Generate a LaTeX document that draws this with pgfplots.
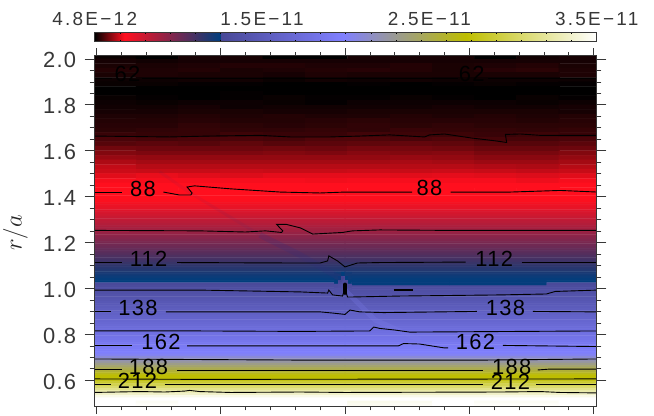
\documentclass[border=0pt]{standalone}
\usepackage{fontspec}
\usepackage{pgfplots}
\pgfplotsset{compat=1.18}
\setmainfont{Liberation Sans}[LetterSpace=12]
\newfontfamily\numfont{Liberation Sans}[LetterSpace=6]

\definecolor{tickgray}{RGB}{55,55,55}
\definecolor{streakblue}{RGB}{50,45,125}
\definecolor{streaklight}{RGB}{125,125,235}

\pgfplotsset{
  colormap={hc}{rgb255(0pt)=(0,0,0); rgb255(59pt)=(255,15,30); rgb255(250pt)=(0,62,125);
    rgb255(251pt)=(72,72,150); rgb255(495pt)=(128,128,255); rgb255(740pt)=(190,190,0);
    rgb255(1000pt)=(255,255,255)},
  contour/.style={no marks, black, line width=0.9bp},
}
\tikzset{lab/.style={font=\numfont\fontsize{22}{22}\selectfont, text=black, inner sep=0pt}}

\begin{document}
\begin{tikzpicture}
\useasboundingbox (0,0) rectangle (654bp,416bp);
\begin{axis}[
    name=main,
    at={(94.7bp,9.3bp)}, anchor=south west,
    scale only axis, width=501.6bp, height=351bp,
    xmin=-0.013, xmax=4.021,
    ymin=0.485, ymax=2.014,
    colormap name=hc,
    point meta min=0, point meta max=1000,
    xmajorticks=false,
    ytick={0.6,0.8,1.0,1.2,1.4,1.6,1.8,2.0},
    yticklabels={0.6,0.8,1.0,1.2,1.4,1.6,1.8,\raisebox{-3.5bp}{2.0}},
    minor y tick num=3,
    ytick pos=both, tick align=outside,
    major tick length=10bp, minor tick length=5bp,
    tick style={tickgray, line width=0.7bp},
    axis line style={tickgray, line width=0.8bp},
    yticklabel style={font=\numfont\fontsize{22}{22}\selectfont, text=tickgray, xshift=-5bp, yshift=-1.5bp},
    axis on top,
    colorbar horizontal,
    colorbar style={
      at={(0,1.0399)}, anchor=south west, xshift=-0.4bp,
      scale only axis, width=502bp, height=9.4bp,
      xticklabel pos=upper,
      xtick={0,333.3,666.7,1000},
      xticklabels={4.8E−12,1.5E−11,2.5E−11,3.5E−11},
      minor xtick={50,100,150,200,250,300,350,400,450,500,550,600,650,700,750,800,850,900,950},
      tick align=inside, major tick length=0pt, minor tick length=1.5bp,
      tick style={black, line width=0.5bp},
      axis line style={tickgray, line width=0.7bp},
      xticklabel style={font=\fontsize{19}{19}\selectfont, text=tickgray, yshift=3bp},
    },
]
% upper part, blocky rows
\addplot[matrix plot*, point meta=explicit, mesh/cols=12] coordinates {
(.15,2.01)[2] (.49,2.01)[0] (.83,2.01)[5] (1.17,2.01)[5] (1.51,2.01)[0] (1.85,2.01)[0] (2.19,2.01)[5] (2.53,2.01)[5] (2.87,2.01)[5] (3.21,2.01)[0] (3.55,2.01)[4] (3.89,2.01)[5]
(.15,1.99)[5] (.49,1.99)[4] (.83,1.99)[5] (1.17,1.99)[5] (1.51,1.99)[5] (1.85,1.99)[5] (2.19,1.99)[5] (2.53,1.99)[5] (2.87,1.99)[5] (3.21,1.99)[5] (3.55,1.99)[5] (3.89,1.99)[5]
(.15,1.97)[6] (.49,1.97)[6] (.83,1.97)[7] (1.17,1.97)[8] (1.51,1.97)[8] (1.85,1.97)[7] (2.19,1.97)[7] (2.53,1.97)[8] (2.87,1.97)[6] (3.21,1.97)[7] (3.55,1.97)[8] (3.89,1.97)[6]
(.15,1.95)[8] (.49,1.95)[7] (.83,1.95)[8] (1.17,1.95)[6] (1.51,1.95)[7] (1.85,1.95)[8] (2.19,1.95)[9] (2.53,1.95)[8] (2.87,1.95)[6] (3.21,1.95)[9] (3.55,1.95)[10] (3.89,1.95)[7]
(.15,1.93)[6] (.49,1.93)[7] (.83,1.93)[6] (1.17,1.93)[6] (1.51,1.93)[5] (1.85,1.93)[7] (2.19,1.93)[6] (2.53,1.93)[6] (2.87,1.93)[6] (3.21,1.93)[6] (3.55,1.93)[6] (3.89,1.93)[7]
(.15,1.91)[3] (.49,1.91)[3] (.83,1.91)[4] (1.17,1.91)[4] (1.51,1.91)[2] (1.85,1.91)[4] (2.19,1.91)[3] (2.53,1.91)[4] (2.87,1.91)[3] (3.21,1.91)[3] (3.55,1.91)[3] (3.89,1.91)[3]
(.15,1.89)[2] (.49,1.89)[2] (.83,1.89)[1] (1.17,1.89)[1] (1.51,1.89)[0] (1.85,1.89)[0] (2.19,1.89)[1] (2.53,1.89)[0] (2.87,1.89)[1] (3.21,1.89)[2] (3.55,1.89)[1] (3.89,1.89)[1]
(.15,1.87)[0] (.49,1.87)[0] (.83,1.87)[0] (1.17,1.87)[0] (1.51,1.87)[0] (1.85,1.87)[0] (2.19,1.87)[0] (2.53,1.87)[0] (2.87,1.87)[0] (3.21,1.87)[0] (3.55,1.87)[0] (3.89,1.87)[0]
(.15,1.85)[0] (.49,1.85)[0] (.83,1.85)[0] (1.17,1.85)[1] (1.51,1.85)[0] (1.85,1.85)[0] (2.19,1.85)[0] (2.53,1.85)[0] (2.87,1.85)[0] (3.21,1.85)[0] (3.55,1.85)[0] (3.89,1.85)[0]
(.15,1.83)[2] (.49,1.83)[1] (.83,1.83)[0] (1.17,1.83)[1] (1.51,1.83)[2] (1.85,1.83)[1] (2.19,1.83)[1] (2.53,1.83)[2] (2.87,1.83)[1] (3.21,1.83)[0] (3.55,1.83)[2] (3.89,1.83)[1]
(.15,1.81)[3] (.49,1.81)[2] (.83,1.81)[3] (1.17,1.81)[3] (1.51,1.81)[2] (1.85,1.81)[1] (2.19,1.81)[3] (2.53,1.81)[3] (2.87,1.81)[3] (3.21,1.81)[3] (3.55,1.81)[2] (3.89,1.81)[3]
(.15,1.79)[4] (.49,1.79)[4] (.83,1.79)[5] (1.17,1.79)[3] (1.51,1.79)[4] (1.85,1.79)[4] (2.19,1.79)[4] (2.53,1.79)[4] (2.87,1.79)[5] (3.21,1.79)[4] (3.55,1.79)[4] (3.89,1.79)[5]
(.15,1.77)[5] (.49,1.77)[5] (.83,1.77)[6] (1.17,1.77)[6] (1.51,1.77)[5] (1.85,1.77)[5] (2.19,1.77)[6] (2.53,1.77)[6] (2.87,1.77)[6] (3.21,1.77)[6] (3.55,1.77)[6] (3.89,1.77)[5]
(.15,1.75)[7] (.49,1.75)[7] (.83,1.75)[8] (1.17,1.75)[7] (1.51,1.75)[8] (1.85,1.75)[7] (2.19,1.75)[7] (2.53,1.75)[8] (2.87,1.75)[7] (3.21,1.75)[8] (3.55,1.75)[7] (3.89,1.75)[8]
(.15,1.73)[8] (.49,1.73)[8] (.83,1.73)[9] (1.17,1.73)[8] (1.51,1.73)[8] (1.85,1.73)[9] (2.19,1.73)[10] (2.53,1.73)[9] (2.87,1.73)[9] (3.21,1.73)[9] (3.55,1.73)[8] (3.89,1.73)[9]
(.15,1.71)[9] (.49,1.71)[9] (.83,1.71)[11] (1.17,1.71)[10] (1.51,1.71)[9] (1.85,1.71)[10] (2.19,1.71)[11] (2.53,1.71)[10] (2.87,1.71)[11] (3.21,1.71)[10] (3.55,1.71)[10] (3.89,1.71)[10]
(.15,1.69)[10] (.49,1.69)[11] (.83,1.69)[12] (1.17,1.69)[11] (1.51,1.69)[11] (1.85,1.69)[12] (2.19,1.69)[11] (2.53,1.69)[13] (2.87,1.69)[12] (3.21,1.69)[12] (3.55,1.69)[11] (3.89,1.69)[12]
(.15,1.67)[13] (.49,1.67)[12] (.83,1.67)[12] (1.17,1.67)[14] (1.51,1.67)[13] (1.85,1.67)[13] (2.19,1.67)[15] (2.53,1.67)[14] (2.87,1.67)[14] (3.21,1.67)[13] (3.55,1.67)[14] (3.89,1.67)[13]
(.15,1.65)[17] (.49,1.65)[16] (.83,1.65)[17] (1.17,1.65)[17] (1.51,1.65)[16] (1.85,1.65)[18] (2.19,1.65)[18] (2.53,1.65)[17] (2.87,1.65)[18] (3.21,1.65)[16] (3.55,1.65)[16] (3.89,1.65)[17]
(.15,1.63)[20] (.49,1.63)[21] (.83,1.63)[20] (1.17,1.63)[22] (1.51,1.63)[20] (1.85,1.63)[21] (2.19,1.63)[22] (2.53,1.63)[23] (2.87,1.63)[22] (3.21,1.63)[20] (3.55,1.63)[20] (3.89,1.63)[21]
(.15,1.61)[26] (.49,1.61)[25] (.83,1.61)[25] (1.17,1.61)[25] (1.51,1.61)[26] (1.85,1.61)[25] (2.19,1.61)[27] (2.53,1.61)[27] (2.87,1.61)[26] (3.21,1.61)[24] (3.55,1.61)[24] (3.89,1.61)[25]
(.15,1.59)[30] (.49,1.59)[29] (.83,1.59)[29] (1.17,1.59)[29] (1.51,1.59)[30] (1.85,1.59)[29] (2.19,1.59)[31] (2.53,1.59)[30] (2.87,1.59)[31] (3.21,1.59)[28] (3.55,1.59)[28] (3.89,1.59)[30]
(.15,1.57)[35] (.49,1.57)[34] (.83,1.57)[34] (1.17,1.57)[34] (1.51,1.57)[34] (1.85,1.57)[34] (2.19,1.57)[34] (2.53,1.57)[35] (2.87,1.57)[34] (3.21,1.57)[32] (3.55,1.57)[32] (3.89,1.57)[34]
(.15,1.55)[40] (.49,1.55)[38] (.83,1.55)[38] (1.17,1.55)[38] (1.51,1.55)[38] (1.85,1.55)[38] (2.19,1.55)[38] (2.53,1.55)[39] (2.87,1.55)[38] (3.21,1.55)[36] (3.55,1.55)[36] (3.89,1.55)[38]
(.15,1.53)[45] (.49,1.53)[42] (.83,1.53)[42] (1.17,1.53)[42] (1.51,1.53)[42] (1.85,1.53)[42] (2.19,1.53)[42] (2.53,1.53)[42] (2.87,1.53)[42] (3.21,1.53)[41] (3.55,1.53)[40] (3.89,1.53)[42]
(.15,1.51)[47] (.49,1.51)[46] (.83,1.51)[46] (1.17,1.51)[47] (1.51,1.51)[46] (1.85,1.51)[46] (2.19,1.51)[47] (2.53,1.51)[46] (2.87,1.51)[47] (3.21,1.51)[46] (3.55,1.51)[45] (3.89,1.51)[46]
(.15,1.49)[52] (.49,1.49)[54] (.83,1.49)[52] (1.17,1.49)[51] (1.51,1.49)[53] (1.85,1.49)[53] (2.19,1.49)[53] (2.53,1.49)[52] (2.87,1.49)[53] (3.21,1.49)[52] (3.55,1.49)[51] (3.89,1.49)[52]
(.15,1.47)[57] (.49,1.47)[57] (.83,1.47)[57] (1.17,1.47)[57] (1.51,1.47)[57] (1.85,1.47)[56] (2.19,1.47)[57] (2.53,1.47)[57] (2.87,1.47)[57] (3.21,1.47)[57] (3.55,1.47)[55] (3.89,1.47)[57]
(.15,1.45)[59] (.49,1.45)[59] (.83,1.45)[59] (1.17,1.45)[59] (1.51,1.45)[59] (1.85,1.45)[59] (2.19,1.45)[59] (2.53,1.45)[59] (2.87,1.45)[59] (3.21,1.45)[59] (3.55,1.45)[59] (3.89,1.45)[59]
(.15,1.43)[59] (.49,1.43)[59] (.83,1.43)[59] (1.17,1.43)[59] (1.51,1.43)[59] (1.85,1.43)[59] (2.19,1.43)[59] (2.53,1.43)[59] (2.87,1.43)[59] (3.21,1.43)[59] (3.55,1.43)[59] (3.89,1.43)[59]
};
% lower part, rows across the whole width
\addplot[matrix plot*, point meta=explicit, mesh/cols=2] coordinates {
(-.1,1.42)[59] (4.1,1.42)[59]
(-.1,1.41)[59] (4.1,1.41)[59]
(-.1,1.40)[59] (4.1,1.40)[59]
(-.1,1.39)[59] (4.1,1.39)[59]
(-.1,1.38)[62] (4.1,1.38)[62]
(-.1,1.37)[67] (4.1,1.37)[67]
(-.1,1.36)[73] (4.1,1.36)[73]
(-.1,1.35)[78] (4.1,1.35)[78]
(-.1,1.34)[83] (4.1,1.34)[83]
(-.1,1.33)[89] (4.1,1.33)[89]
(-.1,1.32)[94] (4.1,1.32)[94]
(-.1,1.31)[100] (4.1,1.31)[100]
(-.1,1.30)[105] (4.1,1.30)[105]
(-.1,1.29)[111] (4.1,1.29)[111]
(-.1,1.28)[116] (4.1,1.28)[116]
(-.1,1.27)[121] (4.1,1.27)[121]
(-.1,1.26)[127] (4.1,1.26)[127]
(-.1,1.25)[132] (4.1,1.25)[132]
(-.1,1.24)[138] (4.1,1.24)[138]
(-.1,1.23)[143] (4.1,1.23)[143]
(-.1,1.22)[149] (4.1,1.22)[149]
(-.1,1.21)[154] (4.1,1.21)[154]
(-.1,1.20)[159] (4.1,1.20)[159]
(-.1,1.19)[165] (4.1,1.19)[165]
(-.1,1.18)[170] (4.1,1.18)[170]
(-.1,1.17)[175] (4.1,1.17)[175]
(-.1,1.16)[181] (4.1,1.16)[181]
(-.1,1.15)[186] (4.1,1.15)[186]
(-.1,1.14)[192] (4.1,1.14)[192]
(-.1,1.13)[197] (4.1,1.13)[197]
(-.1,1.12)[203] (4.1,1.12)[203]
(-.1,1.11)[208] (4.1,1.11)[208]
(-.1,1.10)[214] (4.1,1.10)[214]
(-.1,1.09)[219] (4.1,1.09)[219]
(-.1,1.08)[224] (4.1,1.08)[224]
(-.1,1.07)[230] (4.1,1.07)[230]
(-.1,1.06)[235] (4.1,1.06)[235]
(-.1,1.05)[241] (4.1,1.05)[241]
(-.1,1.04)[246] (4.1,1.04)[246]
(-.1,1.03)[249] (4.1,1.03)[249]
(-.1,1.02)[261] (4.1,1.02)[261]
(-.1,1.01)[268] (4.1,1.01)[268]
(-.1,1.00)[276] (4.1,1.00)[276]
(-.1,.99)[284] (4.1,.99)[284]
(-.1,.98)[291] (4.1,.98)[291]
(-.1,.97)[299] (4.1,.97)[299]
(-.1,.96)[306] (4.1,.96)[306]
(-.1,.95)[314] (4.1,.95)[314]
(-.1,.94)[322] (4.1,.94)[322]
(-.1,.93)[329] (4.1,.93)[329]
(-.1,.92)[337] (4.1,.92)[337]
(-.1,.91)[345] (4.1,.91)[345]
(-.1,.90)[352] (4.1,.90)[352]
(-.1,.89)[360] (4.1,.89)[360]
(-.1,.88)[368] (4.1,.88)[368]
(-.1,.87)[375] (4.1,.87)[375]
(-.1,.86)[383] (4.1,.86)[383]
(-.1,.85)[391] (4.1,.85)[391]
(-.1,.84)[398] (4.1,.84)[398]
(-.1,.83)[406] (4.1,.83)[406]
(-.1,.82)[414] (4.1,.82)[414]
(-.1,.81)[422] (4.1,.81)[422]
(-.1,.80)[429] (4.1,.80)[429]
(-.1,.79)[437] (4.1,.79)[437]
(-.1,.78)[444] (4.1,.78)[444]
(-.1,.77)[452] (4.1,.77)[452]
(-.1,.76)[460] (4.1,.76)[460]
(-.1,.75)[467] (4.1,.75)[467]
(-.1,.74)[475] (4.1,.74)[475]
(-.1,.73)[483] (4.1,.73)[483]
(-.1,.72)[490] (4.1,.72)[490]
(-.1,.71)[507] (4.1,.71)[507]
(-.1,.70)[533] (4.1,.70)[533]
(-.1,.69)[558] (4.1,.69)[558]
(-.1,.68)[584] (4.1,.68)[584]
(-.1,.67)[610] (4.1,.67)[610]
(-.1,.66)[635] (4.1,.66)[635]
(-.1,.65)[661] (4.1,.65)[661]
(-.1,.64)[686] (4.1,.64)[686]
(-.1,.63)[712] (4.1,.63)[712]
(-.1,.62)[738] (4.1,.62)[738]
(-.1,.61)[742] (4.1,.61)[742]
(-.1,.60)[758] (4.1,.60)[758]
(-.1,.59)[789] (4.1,.59)[789]
(-.1,.58)[821] (4.1,.58)[821]
(-.1,.57)[852] (4.1,.57)[852]
(-.1,.56)[883] (4.1,.56)[883]
(-.1,.55)[915] (4.1,.55)[915]
(-.1,.54)[946] (4.1,.54)[946]
(-.1,.53)[978] (4.1,.53)[978]
(-.1,.52)[1000] (4.1,.52)[1000]
(-.1,.51)[1000] (4.1,.51)[1000]
(-.1,.50)[1000] (4.1,.50)[1000]
(-.1,.49)[1000] (4.1,.49)[1000]
(-.1,.48)[1000] (4.1,.48)[1000]
};
% cream patches along the bottom
\addplot[matrix plot*, point meta=explicit, mesh/cols=12] coordinates {
(.15,.505)[1000] (.49,.505)[990] (.83,.505)[1000] (1.17,.505)[1000] (1.51,.505)[1000] (1.85,.505)[1000] (2.19,.505)[980] (2.53,.505)[985] (2.87,.505)[1000] (3.21,.505)[990] (3.55,.505)[990] (3.89,.505)[1000]
(.15,.495)[1000] (.49,.495)[995] (.83,.495)[1000] (1.17,.495)[1000] (1.51,.495)[1000] (1.85,.495)[1000] (2.19,.495)[985] (2.53,.495)[990] (2.87,.495)[1000] (3.21,.495)[995] (3.55,.495)[995] (3.89,.495)[1000]
};
% the step of the dark band between r=1.035 and 1.015
\addplot[matrix plot*, point meta=explicit, mesh/cols=2] coordinates {
(2.448,1.03)[248] (3.228,1.03)[248]
(2.448,1.02)[248] (3.228,1.02)[248]
};
% lighter spot around the singular point
\addplot[matrix plot*, point meta=explicit, mesh/cols=5] coordinates {
(1.928,1.063)[235] (1.956,1.063)[235] (1.984,1.063)[249] (2.012,1.063)[235] (2.040,1.063)[235]
(1.928,1.046)[241] (1.956,1.046)[247] (1.984,1.046)[255] (2.012,1.046)[247] (2.040,1.046)[241]
(1.928,1.028)[249] (1.956,1.028)[256] (1.984,1.028)[264] (2.012,1.028)[256] (2.040,1.028)[249]
(1.928,1.011)[268] (1.956,1.011)[272] (1.984,1.011)[276] (2.012,1.011)[272] (2.040,1.011)[268]
(1.928,.994)[284] (1.956,.994)[284] (1.984,.994)[284] (2.012,.994)[284] (2.040,.994)[284]
};
% faint diagonal streak
\addplot[no marks, streakblue, opacity=0.07, line width=3bp] coordinates {(.51,1.508)(.755,1.416)(1.316,1.233)};
\addplot[no marks, streakblue, opacity=0.2, line width=6bp] coordinates {(1.316,1.233)(1.638,1.146)(1.984,1.037)};
\addplot[no marks, streaklight, opacity=0.25, line width=5bp] coordinates {(2.0,.993)(2.241,.863)(2.603,.776)};
% contour lines
\addplot[contour] coordinates {(-.02,1.913)(.13,1.913)};
\addplot[contour] coordinates {(.37,1.913)(2.91,1.913)};
\addplot[contour] coordinates {(3.15,1.913)(4.03,1.913)};
\addplot[contour] coordinates {(-.02,1.664)(.59,1.660)(.91,1.664)(1.32,1.667)(1.56,1.660)(1.88,1.660)(2.12,1.664)(2.36,1.669)(2.64,1.660)(2.68,1.669)(2.80,1.673)(3.01,1.656)(3.21,1.643)(3.30,1.636)(3.29,1.671)(3.41,1.673)(3.57,1.667)(4.03,1.667)};
\addplot[contour] coordinates {(-.02,1.420)(.21,1.420)};
\addplot[contour] coordinates {(.54,1.420)(.67,1.407)(.76,1.407)(.77,1.416)(.73,1.442)(.79,1.447)(1.08,1.434)(1.48,1.420)(1.80,1.416)(2,1.420)(2.28,1.420)(2.54,1.420)};
\addplot[contour] coordinates {(2.85,1.420)(3.33,1.420)(3.73,1.427)(4.03,1.420)};
\addplot[contour] coordinates {(-.02,1.253)(.83,1.251)(1.20,1.246)(1.36,1.251)(1.49,1.244)(1.50,1.251)(1.45,1.279)(1.53,1.279)(1.64,1.264)(1.74,1.237)(1.98,1.244)(2.06,1.251)(2.28,1.255)(2.84,1.253)(4.03,1.253)};
\addplot[contour] coordinates {(-.02,1.113)(.21,1.113)};
\addplot[contour] coordinates {(.65,1.113)(1.58,1.111)(1.80,1.111)(1.86,1.120)(1.87,1.142)(1.94,1.120)(2,1.094)(2.10,1.111)(2.28,1.113)(2.97,1.115)};
\addplot[contour] coordinates {(3.42,1.113)(4.03,1.113)};
\addplot[contour] coordinates {(-.02,.993)(.83,.993)(1.64,.985)(1.86,.980)(1.87,.993)(1.90,.972)(1.98,.967)(2.00,1.0)(2.02,.963)(2.06,.963)(2.44,.967)(3.25,.972)(3.62,.976)(3.69,.987)(4.03,.993)};
\addplot[no marks, black, line width=3.5bp, line cap=round] coordinates {(2.0,1.018)(2.0,.98)};
\addplot[no marks, black, line width=1.3bp] coordinates {(2.39,.993)(2.55,.993)};
\addplot[contour] coordinates {(-.02,.898)(.12,.898)};
\addplot[contour] coordinates {(.56,.898)(1.80,.898)(1.90,.893)(2.00,.887)(2.04,.906)(2.12,.898)(2.31,.895)(3.06,.900)};
\addplot[contour] coordinates {(3.51,.900)(4.03,.898)};
\addplot[contour] coordinates {(-.02,.815)(.83,.815)(1.64,.813)(2.20,.815)(2.23,.832)(2.28,.826)(2.40,.819)(2.52,.810)(4.03,.815)};
\addplot[contour] coordinates {(-.02,.750)(.29,.750)};
\addplot[contour] coordinates {(.73,.750)(1.64,.750)(2.18,.750)(2.43,.750)(2.47,.760)(2.60,.758)(2.80,.741)(2.83,.741)};
\addplot[contour] coordinates {(3.27,.752)(4.03,.747)};
\addplot[contour] coordinates {(-.02,.693)(1.64,.688)(3.11,.688)(4.03,.693)};
\addplot[contour] coordinates {(-.02,.649)(.21,.649)};
\addplot[contour] coordinates {(.65,.645)(3.11,.645)};
\addplot[contour] coordinates {(3.55,.645)(3.65,.649)(4.03,.649)};
\addplot[contour] coordinates {(-.02,.606)(.83,.604)(4.03,.606)};
\addplot[contour] coordinates {(-.02,.580)(.12,.580)};
\addplot[contour] coordinates {(.55,.580)(3.11,.580)};
\addplot[contour] coordinates {(3.54,.580)(4.03,.580)};
\addplot[contour] coordinates {(-.02,.547)(.35,.551)(.55,.549)(.71,.553)(.75,.556)(.83,.551)(1.08,.547)(1.64,.549)(2,.547)(3.25,.549)(3.57,.551)(3.73,.547)(4.03,.545)};
% contour labels
\node[lab] at (axis cs:.25,1.935) {62};
\node[lab] at (axis cs:3.02,1.935) {62};
\node[lab] at (axis cs:.375,1.434) {88};
\node[lab] at (axis cs:2.68,1.438) {88};
\node[lab] at (axis cs:.42,1.129) {112};
\node[lab] at (axis cs:3.20,1.129) {112};
\node[lab] at (axis cs:.335,.915) {138};
\node[lab] at (axis cs:3.29,.915) {138};
\node[lab] at (axis cs:.52,.767) {162};
\node[lab] at (axis cs:3.05,.767) {162};
\node[lab] at (axis cs:.42,.658) {188};
\node[lab] at (axis cs:3.34,.658) {188};
\node[lab] at (axis cs:.33,.597) {212};
\node[lab] at (axis cs:3.33,.593) {212};
\end{axis}
% x ticks, shorter than the y ticks
\begin{axis}[
    at={(94.7bp,9.3bp)}, anchor=south west,
    scale only axis, width=501.6bp, height=351bp,
    xmin=-0.013, xmax=4.021,
    ymin=0.485, ymax=2.014,
    ymajorticks=false,
    xtick={0,1,2,3,4}, xticklabels={},
    minor x tick num=4,
    xtick pos=both, tick align=outside,
    major tick length=7.4bp, minor tick length=3.6bp,
    tick style={tickgray, line width=0.7bp},
    axis line style={tickgray, line width=0.8bp},
]
\end{axis}
\node[rotate=90, font=\fontsize{26}{26}\selectfont, text=black!85] at (15.5bp,183bp) {$r/a$};
\end{tikzpicture}
\end{document}
